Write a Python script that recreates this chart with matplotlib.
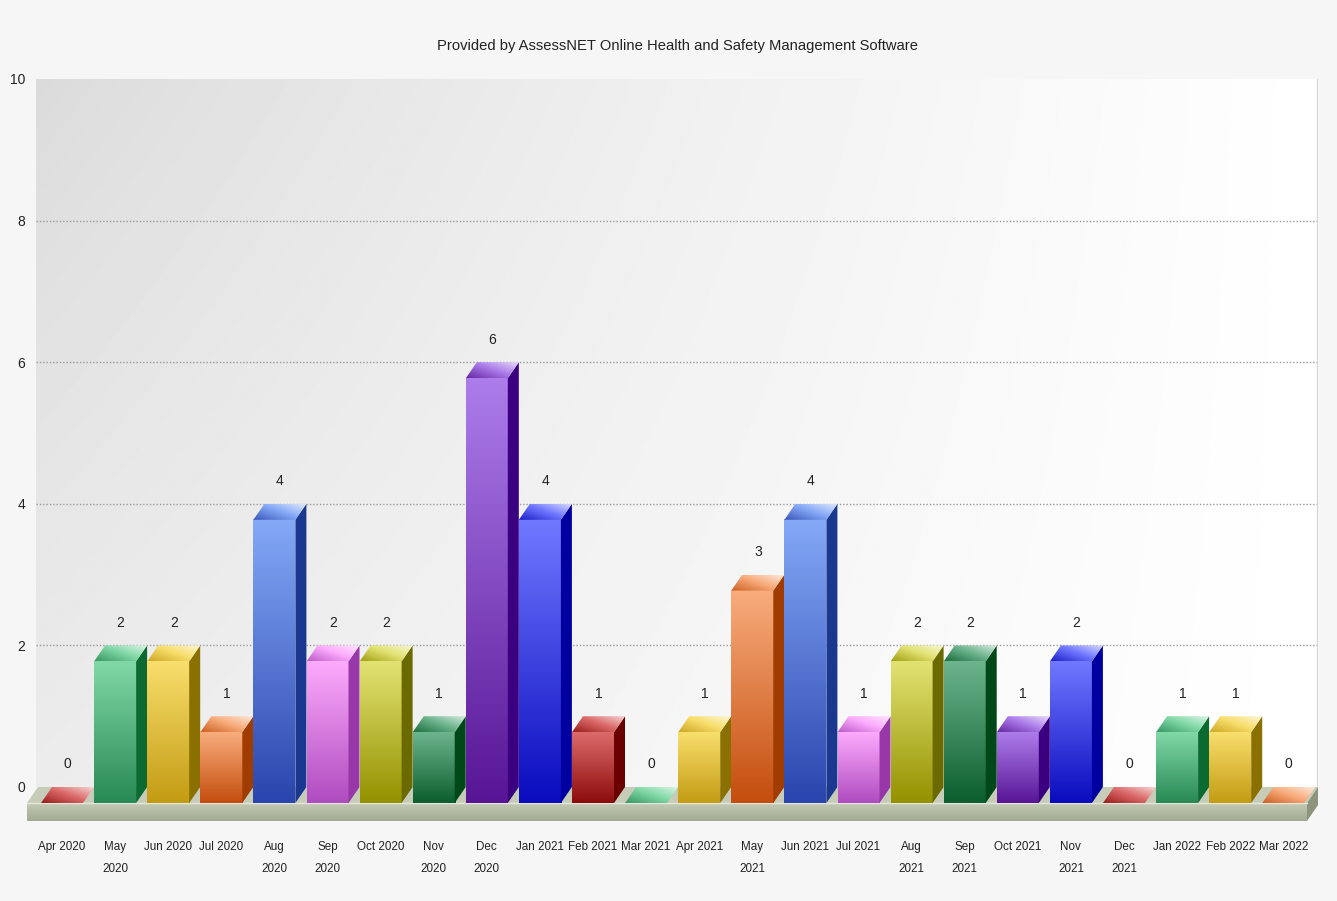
import numpy as np
import matplotlib.pyplot as plt
from matplotlib.patches import Polygon
from matplotlib.colors import LinearSegmentedColormap

# data
months = ['Apr 2020', 'May\n2020', 'Jun 2020', 'Jul 2020', 'Aug\n2020', 'Sep\n2020',
          'Oct 2020', 'Nov\n2020', 'Dec\n2020', 'Jan 2021', 'Feb 2021', 'Mar 2021',
          'Apr 2021', 'May\n2021', 'Jun 2021', 'Jul 2021', 'Aug\n2021', 'Sep\n2021',
          'Oct 2021', 'Nov\n2021', 'Dec\n2021', 'Jan 2022', 'Feb 2022', 'Mar 2022']
counts = [0, 2, 2, 1, 4, 2, 2, 1, 6, 4, 1, 0, 1, 3, 4, 1, 2, 2, 1, 2, 0, 1, 1, 0]
y_ticks = [0, 2, 4, 6, 8, 10]
title = 'Provided by AssessNET Online Health and Safety Management Software'

# colour cycle (front top, front bottom, side)
front_light = ['#dc6a6a', '#80d8a6', '#f8de6c', '#f8ac7c', '#84a8f6',
               '#fcaafc', '#e2e272', '#6cb48c', '#ac7cea', '#7078ff']
front_dark = ['#8c0c0c', '#288a54', '#c49c14', '#c44e0e', '#2a46ae',
              '#b04cc0', '#949200', '#0c5e2e', '#581696', '#0a0cbe']
side_col = ['#6a0000', '#0a6a30', '#8a7000', '#a03c00', '#1a3890',
            '#9838a8', '#6a6a00', '#004818', '#3a0080', '#0000a0']

plt.rcParams['font.family'] = ['Liberation Sans', 'DejaVu Sans']
label_fs, num_fs, title_fs = 8.4, 10, 10.6

W, H = 1337, 901
fig = plt.figure(figsize=(W / 100, H / 100), dpi=100)
fig.patch.set_facecolor('#f6f6f6')


def px_box(l, t, r, b):
    return [l / W, 1 - b / H, (r - l) / W, (b - t) / H]


ax = fig.add_axes(px_box(36, 79, 1318, 830))
slot, unit = 53.1, 70.8
xlim = ((36 - 62) / slot, (1318 - 62) / slot)
ylim = ((787 - 830) / unit, 10)
bar_w = 42 / slot
dx, dy = 11 / slot, 16 / unit

# plot area background, darker top-left fading to white on the right
gx, gd = np.meshgrid(np.linspace(0, 1, 800), np.linspace(0, 1, 500))
t = 1 - (1 - gx) * (1 - 0.4 * gd)
shade = 0.855 + 0.145 * t ** 0.8
ax.imshow(shade, cmap='gray', vmin=0, vmax=1, extent=(xlim[0], xlim[1], 0, 10),
          aspect='auto', zorder=0, interpolation='bilinear')

for gv in y_ticks[1:-1]:
    ax.axhline(gv, color='#9a9a9a', lw=1.0, ls=(0, (1, 1.4)), zorder=1)
ax.plot([xlim[1], xlim[1]], [0, 10], color='#d4d4d4', lw=1.5, zorder=1)

# floor slab
fl, fr = (27 - 62) / slot, (1307 - 62) / slot
th = 18 / unit
ax.add_patch(Polygon([(fl, -dy), (fr, -dy), (fr + dx, 0), (fl + dx, 0)],
                     closed=True, fc='#c6ccb8', ec='none', zorder=2, clip_on=False))
floor_cmap = LinearSegmentedColormap.from_list('floor', ['#c4cab4', '#a2aa92'])
ax.imshow(np.linspace(0, 1, 40).reshape(-1, 1), cmap=floor_cmap,
          extent=(fl, fr, -dy - th, -dy), aspect='auto', zorder=2, clip_on=False)
ax.add_patch(Polygon([(fr, -dy - th), (fr + dx, -th), (fr + dx, 0), (fr, -dy)],
                     closed=True, fc='#8c947c', ec='none', zorder=2, clip_on=False))
ax.plot([fl, fr], [-dy, -dy], color='#e4e8dc', lw=1, zorder=2, clip_on=False)

# bars
for i, v in enumerate(counts):
    k = i % 10
    x0, x1 = i - bar_w / 2, i + bar_w / 2
    top = v - dy
    if v > 0:
        cm = LinearSegmentedColormap.from_list('f%d' % k, [front_light[k], front_dark[k]])
        ax.imshow(np.linspace(0, 1, 60).reshape(-1, 1), cmap=cm,
                  extent=(x0, x1, -dy, top), aspect='auto', zorder=3,
                  interpolation='bilinear')
        side = Polygon([(x1, -dy), (x1 + dx, 0), (x1 + dx, v), (x1, top)],
                       closed=True, fc=side_col[k], ec='none', zorder=3)
        ax.add_patch(side)
    # top face
    tp = Polygon([(x0, top), (x1, top), (x1 + dx, v), (x0 + dx, v)],
                 closed=True, fc='none', ec='none', zorder=3)
    ax.add_patch(tp)
    tcm = LinearSegmentedColormap.from_list('t%d' % k, [front_dark[k], front_light[k], '#ffffff'])
    tim = ax.imshow(np.linspace(0.15, 0.85, 60).reshape(1, -1) * 0.6 +
                    np.linspace(0.35, 0, 30).reshape(-1, 1),
                    cmap=tcm, vmin=0, vmax=1, extent=(x0, x1 + dx, top, v),
                    aspect='auto', zorder=3, interpolation='bilinear')
    tim.set_clip_path(tp)
    ax.text(i + dx / 2, v + 0.32, str(v), ha='center', va='center',
            fontsize=num_fs, color='#222222', zorder=4)

ax.set_xlim(*xlim)
ax.set_ylim(*ylim)
ax.set_xticks(range(len(months)))
ax.set_xticklabels(months, linespacing=2.1, fontsize=label_fs)
ax.set_yticks(y_ticks)
ax.tick_params(length=0, colors='#222222')
ax.tick_params(axis='x', pad=8)
ax.tick_params(axis='y', pad=8, labelsize=num_fs)
for sp in ax.spines.values():
    sp.set_visible(False)
ax.set_facecolor('none')

fig.text(678 / W, 1 - 46 / H, title, ha='center', va='center', fontsize=title_fs, color='#222222')

fig.savefig('out.png', dpi=100, facecolor=fig.get_facecolor())
